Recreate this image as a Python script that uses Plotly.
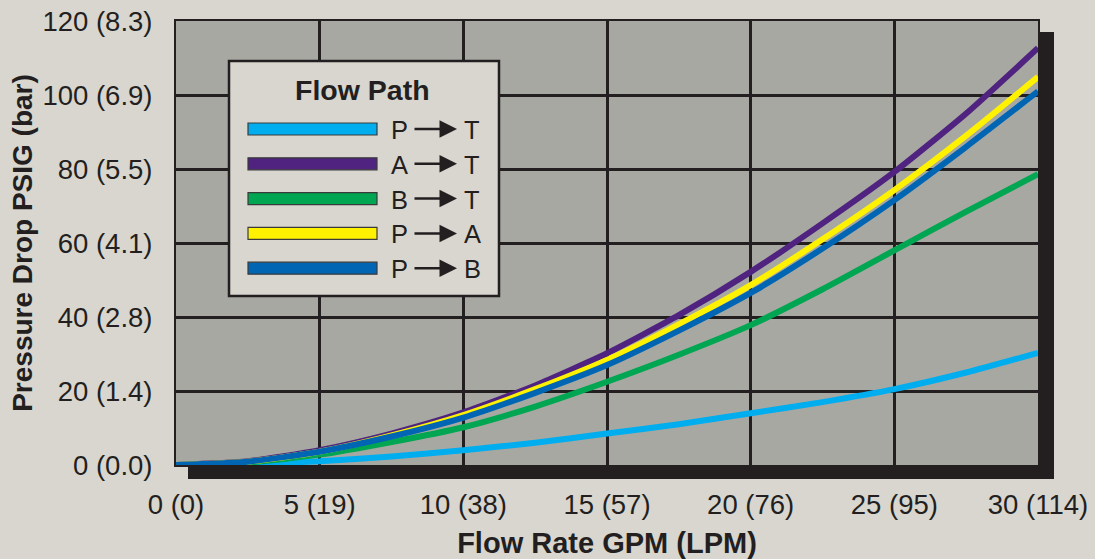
import plotly.graph_objects as go

# flow rate, GPM
flow_gpm = [0, 2.5, 5, 7.5, 10, 12.5, 15, 17.5, 20, 22.5, 25, 27.5, 30]

# pressure drop, PSIG
p_to_t = [0, 0.3, 1.0, 2.3, 4.0, 6.0, 8.5, 11.0, 14.0, 17.0, 20.5, 25.0, 30.3]
b_to_t = [0, 0.7, 2.8, 6.2, 10.2, 15.8, 22.5, 29.8, 37.8, 47.5, 58.0, 68.5, 78.6]
a_to_t = [0, 1.0, 4.0, 8.5, 14.2, 21.5, 30.2, 40.5, 52.2, 65.3, 79.2, 95.0, 112.7]
p_to_a = [0, 0.9, 3.6, 8.0, 13.5, 20.5, 28.4, 38.0, 48.6, 61.0, 74.3, 89.0, 104.9]
p_to_b = [0, 0.9, 3.6, 7.7, 12.8, 19.5, 27.0, 36.3, 46.5, 58.5, 71.6, 86.0, 101.0]

x_ticks = [0, 5, 10, 15, 20, 25, 30]
x_ticktext = ['0 (0)', '5 (19)', '10 (38)', '15 (57)', '20 (76)', '25 (95)', '30 (114)']
y_ticks = [0, 20, 40, 60, 80, 100, 120]
y_ticktext = ['0 (0.0)', '20 (1.4)', '40 (2.8)', '60 (4.1)', '80 (5.5)', '100 (6.9)', '120 (8.3)']

# legend order (top to bottom) and drawing order
legend_order = [('P', 'T'), ('A', 'T'), ('B', 'T'), ('P', 'A'), ('P', 'B')]
series = {
    ('P', 'T'): (p_to_t, '#00aeef'),
    ('B', 'T'): (b_to_t, '#00a651'),
    ('A', 'T'): (a_to_t, '#4f237f'),
    ('P', 'A'): (p_to_a, '#fff200'),
    ('P', 'B'): (p_to_b, '#0066b3'),
}

INK = '#231f20'
BG = '#d8d6cf'
PLOT_BG = '#a7a8a2'
FONT = 'Liberation Sans, Arial, sans-serif'

W, H = 1095, 559
L, R, T, B = 176, 57, 21, 94


def px(x):
    return (x - L) / (W - L - R)


def py(y):
    return (H - B - y) / (H - T - B)


fig = go.Figure()

for key, (vals, color) in series.items():
    fig.add_trace(go.Scatter(x=flow_gpm, y=vals, mode='lines',
                             line=dict(color=color, width=6, shape='spline', smoothing=0.6),
                             name=f'{key[0]} → {key[1]}', showlegend=False))

shapes = [
    # drop shadow
    dict(type='rect', xref='paper', yref='paper', x0=px(188), x1=px(1054), y0=py(479), y1=py(32),
         fillcolor=INK, line=dict(width=0), layer='below'),
    # plot area
    dict(type='rect', xref='paper', yref='paper', x0=0, x1=1, y0=0, y1=1,
         fillcolor=PLOT_BG, line=dict(width=0), layer='below'),
    # legend box
    dict(type='rect', xref='paper', yref='paper', x0=px(229), x1=px(499), y0=py(296), y1=py(61),
         fillcolor=BG, line=dict(color=INK, width=2.5), layer='above'),
]


def label(text, x, y, size):
    return dict(text=text, x=px(x), y=py(y), xref='paper', yref='paper',
                xanchor='center', yanchor='middle', showarrow=False,
                font=dict(size=size, color=INK, family=FONT))


annotations = [label('<b>Flow Path</b>', 362, 90, 28.5)]

for i, key in enumerate(legend_order):
    color = series[key][1]
    yc = 129 + i * 34.8
    shapes.append(dict(type='rect', xref='paper', yref='paper', x0=px(248), x1=px(377),
                       y0=py(yc + 6), y1=py(yc - 6), fillcolor=color,
                       line=dict(color='#3a3a3a', width=1.2), layer='above'))
    annotations.append(label(key[0], 399, yc + 1, 25.5))
    annotations.append(label(key[1], 472, yc + 1, 25.5))
    annotations.append(dict(text='', x=px(457), y=py(yc), xref='paper', yref='paper',
                            ax=-44, ay=0, axref='pixel', ayref='pixel', showarrow=True,
                            arrowhead=2, arrowsize=1.4, arrowwidth=2.5, arrowcolor=INK))

fig.update_layout(
    width=W, height=H,
    margin=dict(l=L, r=R, t=T, b=B),
    paper_bgcolor=BG,
    plot_bgcolor='rgba(0,0,0,0)',
    font=dict(family=FONT, color=INK, size=27.5),
    shapes=shapes,
    annotations=annotations,
    showlegend=False,
)

fig.update_xaxes(range=[0, 30], tickvals=x_ticks, ticktext=x_ticktext, automargin=False,
                 showgrid=True, gridcolor=INK, gridwidth=2.5, zeroline=False,
                 showline=True, mirror=True, linecolor=INK, linewidth=2,
                 ticks='outside', ticklen=14, tickcolor='rgba(0,0,0,0)',
                 tickfont=dict(size=27.5),
                 title=dict(text='<b>Flow Rate GPM (LPM)</b>', font=dict(size=29), standoff=14))
fig.update_yaxes(range=[0, 120], tickvals=y_ticks, ticktext=y_ticktext, automargin=False,
                 showgrid=True, gridcolor=INK, gridwidth=2.5, zeroline=False,
                 showline=True, mirror=True, linecolor=INK, linewidth=2,
                 ticks='outside', ticklen=16, tickcolor='rgba(0,0,0,0)',
                 tickfont=dict(size=27.5),
                 title=dict(text='<b>Pressure Drop PSIG (bar)</b>', font=dict(size=28), standoff=2))

# drop the page's default body margin so the figure fills the window
fig.write_html('out.html', config={'displayModeBar': False},
               post_script="document.body.style.margin='0';")
